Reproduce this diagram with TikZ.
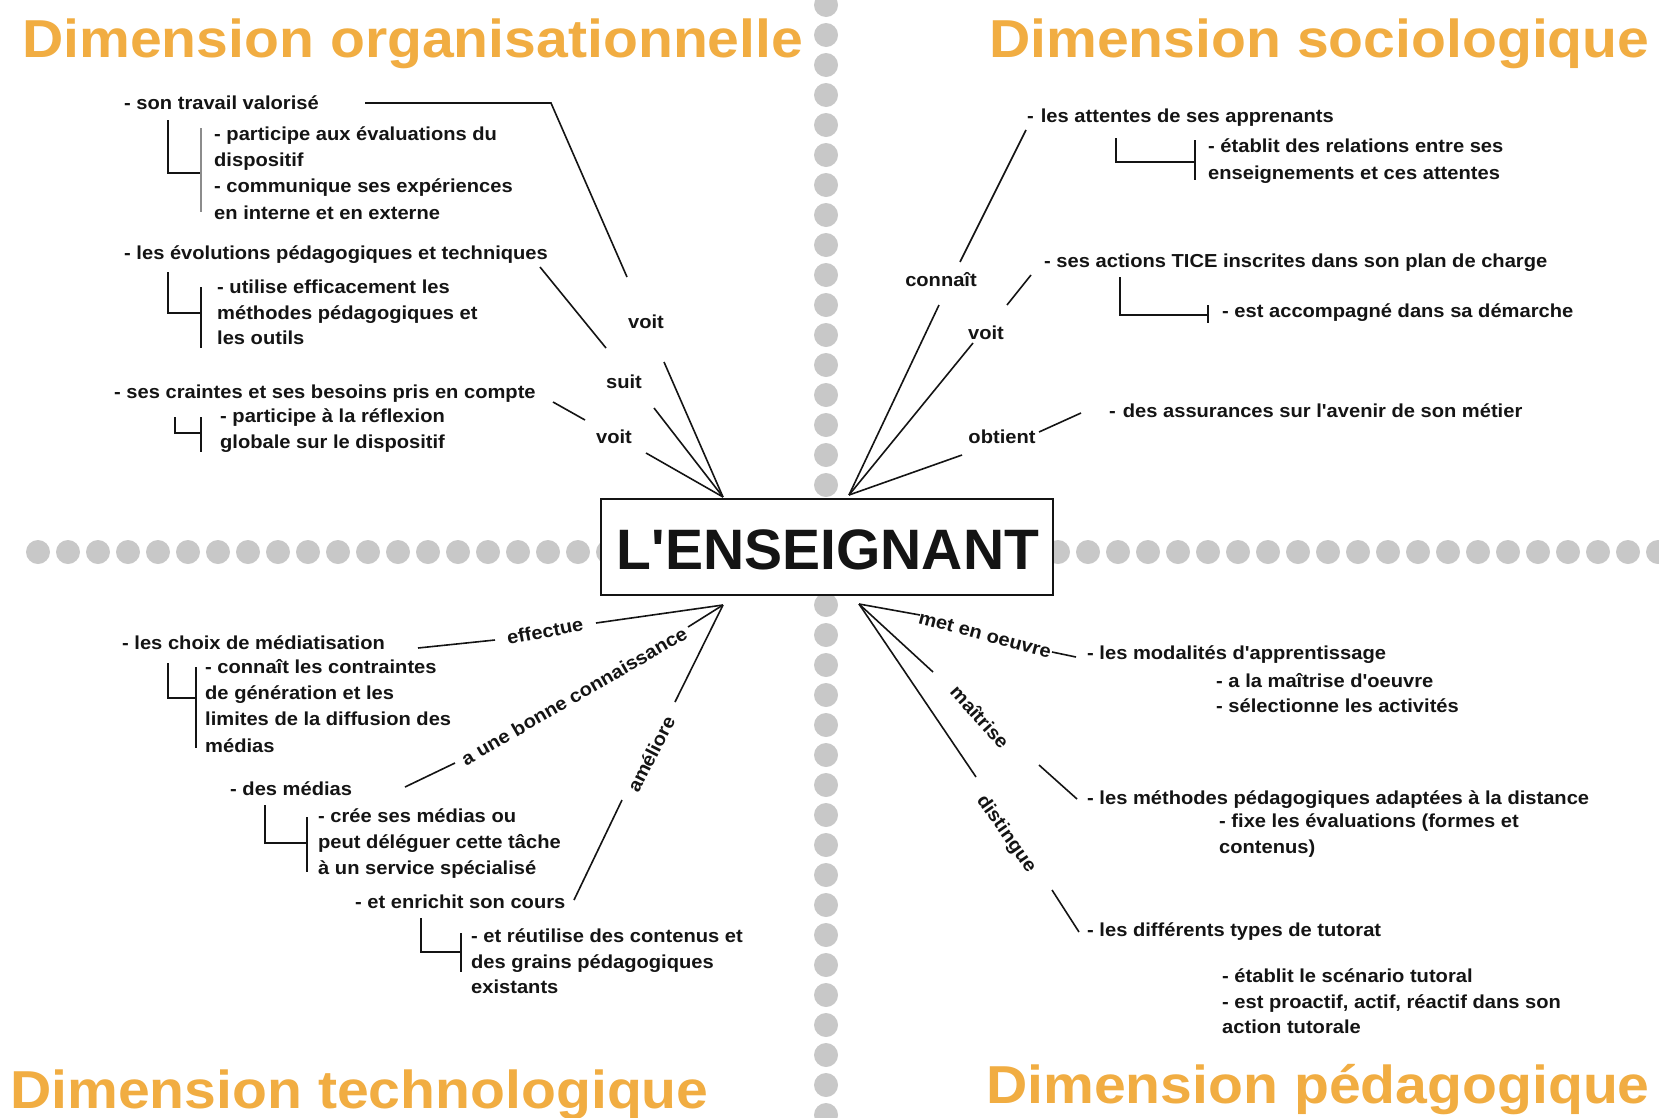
\documentclass[tikz,border=0pt]{standalone}
\usepackage{fontspec}
\newfontfamily\tf{Liberation Sans}[FakeStretch=1.07]
\newfontfamily\boxfont{Liberation Sans}
\definecolor{ttlc}{RGB}{241,173,66}
\definecolor{dotc}{RGB}{200,200,200}
\definecolor{ink}{RGB}{20,20,20}
\begin{document}
\begin{tikzpicture}[x=1pt,y=-1pt,
  txt/.style={anchor=base west,inner sep=0pt,font=\tf\bfseries\fontsize{18.8}{25}\selectfont,text=ink},
  lbl/.style={inner sep=0pt,font=\tf\bfseries\fontsize{18.8}{25}\selectfont,text=ink},
  ttl/.style={anchor=base west,inner sep=0pt,font=\tf\bfseries\fontsize{53.4}{60}\selectfont,text=ttlc},
  ln/.style={line width=1.6pt,draw=ink},
  grayln/.style={line width=1.8pt,draw=black!45},
  dotst/.style={fill=dotc,draw=none}]
\useasboundingbox (0,0) rectangle (1659,1117);
\fill[white] (0,0) rectangle (1659,1117);
% dotted separators
\foreach \k in {0,...,37} \fill[dotst] (826,5+30*\k) circle (12);
\foreach \k in {0,...,54} \fill[dotst] (38+30*\k,552) circle (12);
% central box
\node[draw=ink,line width=1.6pt,fill=white,minimum width=452pt,minimum height=96pt,inner sep=0pt] (box) at (827,547) {};
\node[inner sep=0pt,font=\boxfont\bfseries\fontsize{57}{60}\selectfont,text=ink] (boxt) at (828,550) {L'ENSEIGNANT};
\coordinate (ctl) at (723,497);
\coordinate (ctr) at (849,495);
\coordinate (cbl) at (723,605);
\coordinate (cbr) at (859,604);
% titles
\node[ttl] (d1) at (22,57) {Dimension organisationnelle};
\node[ttl] (d2) at (989,57) {Dimension sociologique};
\node[ttl] (d3) at (10,1108) {Dimension technologique};
\node[ttl] (d4) at (986,1103) {Dimension pédagogique};
% ---------- top left ----------
\node[txt] (tl1) at (124,109) {- son travail valorisé};
\node[txt] (tl1a) at (214,140) {- participe aux évaluations du};
\node[txt] (tl1b) at (214,166) {dispositif};
\node[txt] (tl1c) at (214,192) {- communique ses expériences};
\node[txt] (tl1d) at (214,219) {en interne et en externe};
\draw[ln] (168,120) -- (168,173) -- (200,173);
\draw[grayln] (201,128) -- (201,212);
\node[txt] (tl2) at (124,259) {- les évolutions pédagogiques et techniques};
\node[txt] (tl2a) at (217,293) {- utilise efficacement les};
\node[txt] (tl2b) at (217,319) {méthodes pédagogiques et};
\node[txt] (tl2c) at (217,344) {les outils};
\draw[ln] (168,272) -- (168,313) -- (201,313);
\draw[ln] (201,287) -- (201,348);
\node[txt] (tl3) at (114,398) {- ses craintes et ses besoins pris en compte};
\node[txt] (tl3a) at (220,422) {- participe à la réflexion};
\node[txt] (tl3b) at (220,448) {globale sur le dispositif};
\draw[ln] (175,417) -- (175,433) -- (201,433);
\draw[ln] (201,417) -- (201,452);
\node[lbl] (v1) at (646,322) {voit};
\node[lbl] (s1) at (624,382) {suit};
\node[lbl] (v2) at (614,437) {voit};
\coordinate (a1) at (365,103); \coordinate (a2) at (551,103); \coordinate (a3) at (627,277); \coordinate (a4) at (664,362);
\coordinate (b1) at (540,267); \coordinate (b2) at (606,348); \coordinate (b3) at (654,408);
\coordinate (c1) at (553,402); \coordinate (c2) at (585,420); \coordinate (c3) at (646,453);
\draw[ln] (a1) -- (a2) -- (a3);
\draw[ln] (a4) -- (ctl);
\draw[ln] (b1) -- (b2);
\draw[ln] (b3) -- (ctl);
\draw[ln] (c1) -- (c2);
\draw[ln] (c3) -- (ctl);
% ---------- top right ----------
\node[txt] (tr1) at (1027,122) {-\hspace{7pt}les attentes de ses apprenants};
\node[txt] (tr1a) at (1208,152) {- établit des relations entre ses};
\node[txt] (tr1b) at (1208,179) {enseignements et ces attentes};
\draw[ln] (1116,138) -- (1116,162) -- (1195,162);
\draw[ln] (1195,140) -- (1195,180);
\node[txt] (tr2) at (1044,267) {- ses actions TICE inscrites dans son plan de charge};
\node[txt] (tr2a) at (1222,317) {- est accompagné dans sa démarche};
\draw[ln] (1120,277) -- (1120,315) -- (1208,315);
\draw[ln] (1208,305) -- (1208,323);
\node[txt] (tr3) at (1109,417) {-\hspace{7pt}des assurances sur l'avenir de son métier};
\node[lbl] (k1) at (941,280) {connaît};
\node[lbl] (v3) at (986,333) {voit};
\node[lbl] (o1) at (1002,437) {obtient};
\coordinate (e1) at (939,305); \coordinate (e2) at (960,262); \coordinate (e3) at (1026,130);
\coordinate (f1) at (973,343); \coordinate (f2) at (1007,305); \coordinate (f3) at (1031,275);
\coordinate (g1) at (962,455); \coordinate (g2) at (1039,432); \coordinate (g3) at (1081,413);
\draw[ln] (ctr) -- (e1);
\draw[ln] (e2) -- (e3);
\draw[ln] (ctr) -- (f1);
\draw[ln] (f2) -- (f3);
\draw[ln] (ctr) -- (g1);
\draw[ln] (g2) -- (g3);
% ---------- bottom left ----------
\node[txt] (bl1) at (122,649) {- les choix de médiatisation};
\node[txt] (bl1a) at (205,673) {- connaît les contraintes};
\node[txt] (bl1b) at (205,699) {de génération et les};
\node[txt] (bl1c) at (205,725) {limites de la diffusion des};
\node[txt] (bl1d) at (205,752) {médias};
\draw[ln] (168,663) -- (168,698) -- (196,698);
\draw[ln] (196,667) -- (196,748);
\node[txt] (bl2) at (230,795) {- des médias};
\node[txt] (bl2a) at (318,822) {- crée ses médias ou};
\node[txt] (bl2b) at (318,848) {peut déléguer cette tâche};
\node[txt] (bl2c) at (318,874) {à un service spécialisé};
\draw[ln] (265,805) -- (265,843) -- (307,843);
\draw[ln] (307,817) -- (307,872);
\node[txt] (bl3) at (355,908) {- et enrichit son cours};
\node[txt] (bl3a) at (471,942) {- et réutilise des contenus et};
\node[txt] (bl3b) at (471,968) {des grains pédagogiques};
\node[txt] (bl3c) at (471,993) {existants};
\draw[ln] (421,918) -- (421,952) -- (461,952);
\draw[ln] (461,933) -- (461,972);
\node[lbl,rotate=11] (ef) at (545,631) {effectue};
\node[lbl,rotate=30] (bc) at (574,696) {a une bonne connaissance};
\node[lbl,rotate=63] (am) at (651,754) {améliore};
\coordinate (h1) at (596,623); \coordinate (h2) at (495,640); \coordinate (h3) at (418,648);
\coordinate (i1) at (688,627); \coordinate (i2) at (455,763); \coordinate (i3) at (405,787);
\coordinate (j1) at (675,702); \coordinate (j2) at (622,800); \coordinate (j3) at (574,900);
\draw[ln] (cbl) -- (h1);
\draw[ln] (h2) -- (h3);
\draw[ln] (cbl) -- (i1);
\draw[ln] (i2) -- (i3);
\draw[ln] (cbl) -- (j1);
\draw[ln] (j2) -- (j3);
% ---------- bottom right ----------
\node[txt] (br1) at (1087,659) {- les modalités d'apprentissage};
\node[txt] (br1a) at (1216,687) {- a la maîtrise d'oeuvre};
\node[txt] (br1b) at (1216,712) {- sélectionne les activités};
\node[txt] (br2) at (1087,804) {- les méthodes pédagogiques adaptées à la distance};
\node[txt] (br2a) at (1219,827) {- fixe les évaluations (formes et};
\node[txt] (br2b) at (1219,853) {contenus)};
\node[txt] (br3) at (1087,936) {- les différents types de tutorat};
\node[txt] (br3a) at (1222,982) {- établit le scénario tutoral};
\node[txt] (br3b) at (1222,1008) {- est proactif, actif, réactif dans son};
\node[txt] (br3c) at (1222,1033) {action tutorale};
\node[lbl,rotate=-15] (mo) at (985,635) {met en oeuvre};
\node[lbl,rotate=-48] (ma) at (980,717) {maîtrise};
\node[lbl,rotate=-55] (di) at (1006,834) {distingue};
\coordinate (m1) at (920,615); \coordinate (m2) at (1052,652); \coordinate (m3) at (1076,657);
\coordinate (n1) at (933,672); \coordinate (n2) at (1039,765); \coordinate (n3) at (1077,799);
\coordinate (p1) at (976,777); \coordinate (p2) at (1052,890); \coordinate (p3) at (1079,932);
\draw[ln] (cbr) -- (m1);
\draw[ln] (m2) -- (m3);
\draw[ln] (cbr) -- (n1);
\draw[ln] (n2) -- (n3);
\draw[ln] (cbr) -- (p1);
\draw[ln] (p2) -- (p3);
\end{tikzpicture}
\end{document}
